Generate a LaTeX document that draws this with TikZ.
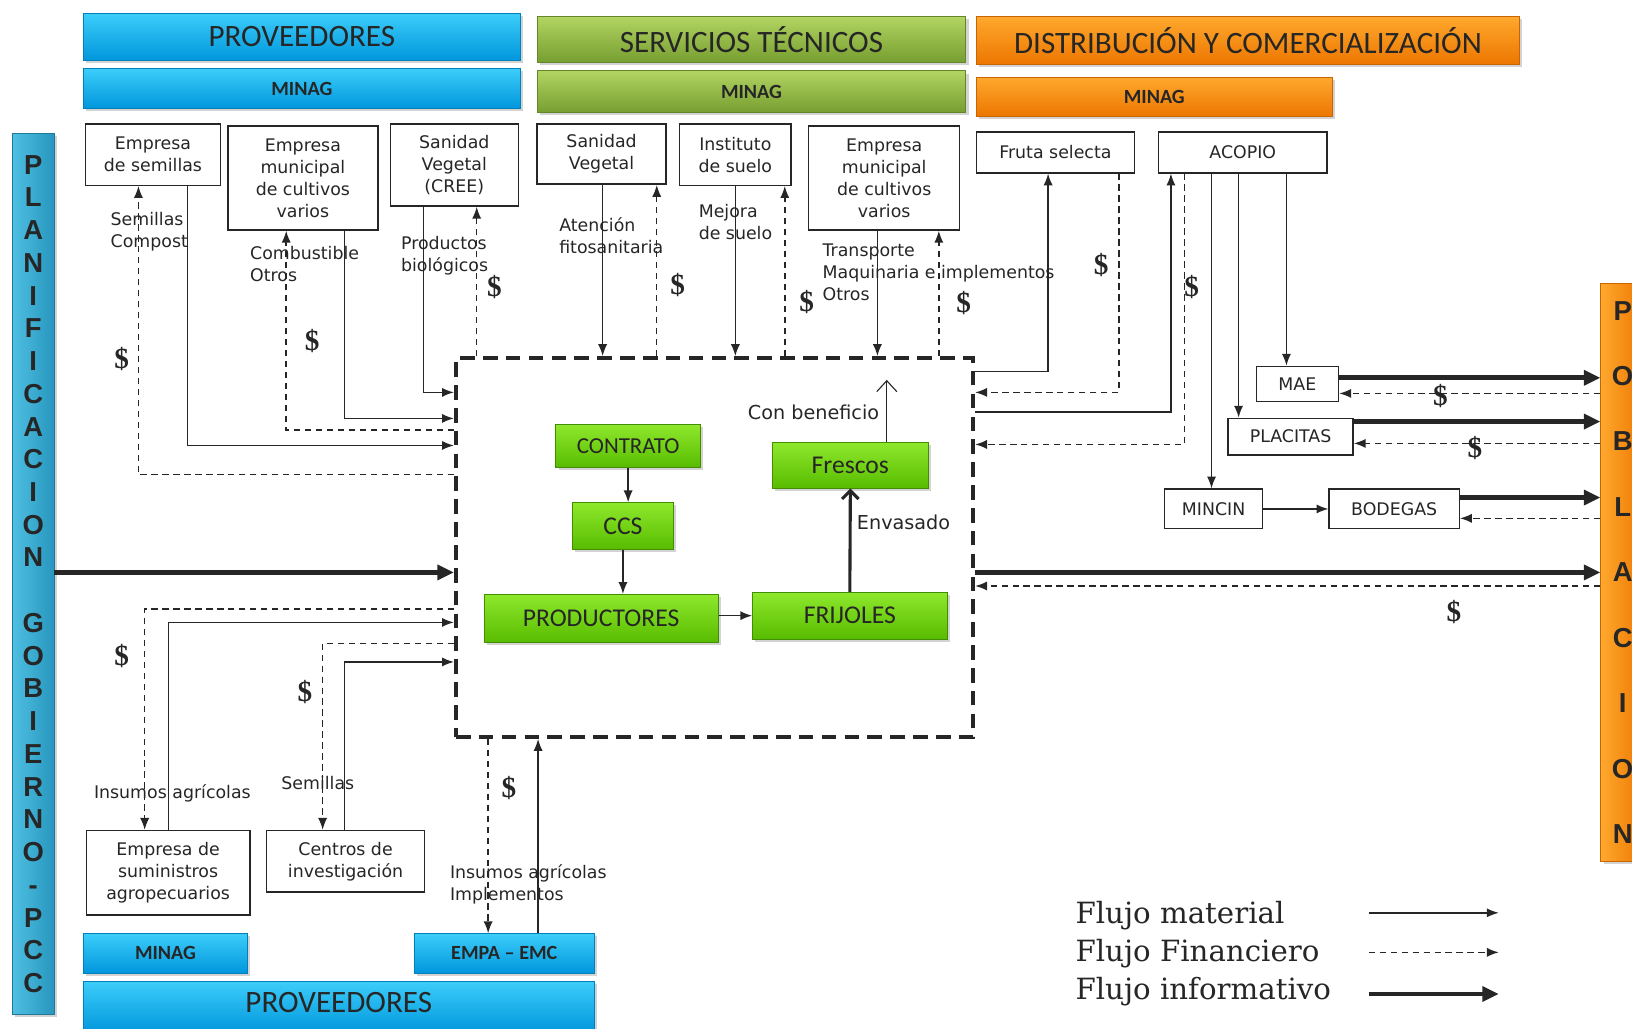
\documentclass[tikz,border=0pt]{standalone}
\usepackage{fontspec}
\setmainfont{DejaVu Sans}
\newfontfamily\hdrfont{Carlito}
\newfontfamily\lgdfont{DejaVu Serif}
\newfontfamily\dolfont{Liberation Serif}
\newfontfamily\barfont{Liberation Sans}
\usetikzlibrary{arrows.meta, shadows}

\definecolor{blueT}{RGB}{60,205,250}
\definecolor{blueB}{RGB}{0,150,220}
\definecolor{oliveT}{RGB}{178,212,98}
\definecolor{oliveB}{RGB}{118,158,48}
\definecolor{orangeT}{RGB}{255,168,45}
\definecolor{orangeB}{RGB}{236,118,0}
\definecolor{greenT}{RGB}{142,232,44}
\definecolor{greenB}{RGB}{88,188,0}
\definecolor{tealL}{RGB}{78,192,226}
\definecolor{tealR}{RGB}{40,150,190}
\definecolor{ink}{RGB}{38,38,38}

\begin{document}
\begin{tikzpicture}[x=0.02cm, y=-0.02cm, text=ink, font=\fontsize{9.5}{12}\selectfont]
    \tikzstyle{bar} = [rectangle, inner sep=0pt,
        drop shadow={shadow xshift=1.5pt, shadow yshift=-1.5pt, opacity=0.35}]
    \tikzstyle{bluebar} = [bar, top color=blueT, bottom color=blueB, draw=blueB!85!black]
    \tikzstyle{olivebar} = [bar, top color=oliveT, bottom color=oliveB, draw=oliveB!85!black]
    \tikzstyle{orangebar} = [bar, top color=orangeT, bottom color=orangeB, draw=orangeB!85!black]
    \tikzstyle{hdrtxt} = [font=\hdrfont\fontsize{17}{20}\selectfont, text=black!85]
    \tikzstyle{subtxt} = [font=\hdrfont\bfseries\fontsize{11}{13}\selectfont, text=black!85]
    \tikzstyle{wbox} = [rectangle, draw=black!85, line width=0.8pt, fill=white,
        align=center, inner sep=2pt]
    \tikzstyle{gbox} = [rectangle, top color=greenT, bottom color=greenB,
        draw=greenB!75!black, inner sep=0pt, text=black!85,
        drop shadow={shadow xshift=1.5pt, shadow yshift=-1.5pt, opacity=0.35},
        font=\hdrfont\fontsize{14}{16}\selectfont]
    \tikzstyle{lbl} = [align=left, inner sep=0pt, anchor=west]
    \tikzstyle{dol} = [inner sep=0pt, font=\dolfont\bfseries\fontsize{16}{18}\selectfont]
    \tikzstyle{lgd} = [inner sep=0pt, anchor=west, font=\lgdfont\fontsize{16}{18}\selectfont]
    \tikzstyle{mat} = [draw=ink, line width=0.8pt, -{Latex[length=6.5pt,width=5pt]}]
    \tikzstyle{fin} = [draw=ink, line width=0.8pt, dash pattern=on 3.5pt off 2.5pt,
        -{Latex[length=6.5pt,width=5pt]}]
    \tikzstyle{inf} = [draw=ink, line width=2.8pt, -{Triangle[length=9pt,width=8pt]}]

    \useasboundingbox (0,0) rectangle (1568,988);

    % cabeceras
    \node [bluebar, hdrtxt, minimum width=8.4cm, minimum height=0.9cm] (prov) at (290,35.5) {PROVEEDORES};
    \node [bluebar, subtxt, minimum width=8.4cm, minimum height=0.76cm] (minag1) at (290,85) {MINAG};
    \node [olivebar, hdrtxt, minimum width=8.24cm, minimum height=0.88cm] (serv) at (722,38) {SERVICIOS TÉCNICOS};
    \node [olivebar, subtxt, minimum width=8.24cm, minimum height=0.8cm] (minag2) at (722,88) {MINAG};
    \node [orangebar, hdrtxt, minimum width=10.44cm, minimum height=0.92cm] (dist) at (1199,39) {DISTRIBUCIÓN Y COMERCIALIZACIÓN};
    \node [orangebar, subtxt, minimum width=6.84cm, minimum height=0.76cm] (minag3) at (1109,93) {MINAG};

    % barras laterales
    \node [bar, left color=tealL, right color=tealR, draw=tealR!80!black,
        minimum width=0.8cm, minimum height=16.94cm, align=center,
        font=\barfont\bfseries\fontsize{15}{17.9}\selectfont] (gob) at (32,551.5)
        {P\\L\\A\\N\\I\\F\\I\\C\\A\\C\\I\\O\\N\\[17.9pt]G\\O\\B\\I\\E\\R\\N\\O\\-\\P\\C\\C};
    \node [bar, left color=orangeT, right color=orangeB, draw=orangeB!85!black,
        minimum width=0.84cm, minimum height=11.12cm, align=center,
        font=\barfont\bfseries\fontsize{15}{35.8}\selectfont] (pob) at (1559,550)
        {P\\O\\B\\L\\A\\C\\I\\O\\N};

    % proveedores y servicios
    \node [wbox, minimum width=2.6cm, minimum height=1.18cm] (semillas) at (147,148.5) {Empresa\\de semillas};
    \node [wbox, minimum width=2.88cm, minimum height=2.0cm] (empmun1) at (291,171) {Empresa\\municipal\\de cultivos\\varios};
    \node [wbox, minimum width=2.46cm, minimum height=1.58cm] (sanveg1) at (436.5,158.5) {Sanidad\\Vegetal\\(CREE)};
    \node [wbox, minimum width=2.48cm, minimum height=1.16cm] (sanveg2) at (578,148) {Sanidad\\Vegetal};
    \node [wbox, minimum width=2.14cm, minimum height=1.18cm] (instsuelo) at (706.5,148.5) {Instituto\\de suelo};
    \node [wbox, minimum width=2.9cm, minimum height=2.0cm] (empmun2) at (849.5,171) {Empresa\\municipal\\de cultivos\\varios};
    \node [wbox, minimum width=3.04cm, minimum height=0.78cm] (fruta) at (1014,146.5) {Fruta selecta};
    \node [wbox, minimum width=3.24cm, minimum height=0.78cm] (acopio) at (1194,146.5) {ACOPIO};
    \node [wbox, minimum width=1.58cm, minimum height=0.68cm] (mae) at (1246.5,369) {MAE};
    \node [wbox, minimum width=2.4cm, minimum height=0.7cm] (placitas) at (1240,419.5) {PLACITAS};
    \node [wbox, minimum width=1.88cm, minimum height=0.76cm] (mincin) at (1166,489) {MINCIN};
    \node [wbox, minimum width=2.5cm, minimum height=0.76cm] (bodegas) at (1339.5,489) {BODEGAS};
    \node [wbox, minimum width=3.14cm, minimum height=1.62cm] (suministros) at (161.5,838.5) {Empresa de\\suministros\\agropecuarios};
    \node [wbox, minimum width=3.04cm, minimum height=1.18cm] (centros) at (332,827.5) {Centros de\\investigación};
    \node [bluebar, subtxt, minimum width=3.16cm, minimum height=0.76cm] (bminag) at (159,916) {MINAG};
    \node [bluebar, subtxt, minimum width=3.46cm, minimum height=0.76cm] (empa) at (484.5,916) {EMPA – EMC};
    \node [bluebar, hdrtxt, minimum width=9.82cm, minimum height=1.0cm, text depth=6pt] (bprov) at (325.5,968) {PROVEEDORES};

    % sistema productivo
    \node [draw=ink, line width=2.2pt, dash pattern=on 8pt off 4.5pt, inner sep=0pt,
        minimum width=9.94cm, minimum height=7.28cm] (sist) at (686.5,526) {};
    \node [gbox, minimum width=2.78cm, minimum height=0.82cm, font=\hdrfont\fontsize{12.5}{14}\selectfont] (contrato) at (603.5,428.5) {CONTRATO};
    \node [gbox, minimum width=1.94cm, minimum height=0.9cm] (ccs) at (598.5,505.5) {CCS};
    \node [gbox, minimum width=4.5cm, minimum height=0.92cm] (prod) at (577.5,594) {PRODUCTORES};
    \node [gbox, minimum width=3.74cm, minimum height=0.9cm] (frij) at (816.5,591.5) {FRIJOLES};
    \node [gbox, minimum width=3.0cm, minimum height=0.88cm] (frescos) at (817,447) {Frescos};
    \coordinate (benef) at (852,365);

    \draw [mat] (contrato.south) -- (contrato.south |- ccs.north);
    \draw [mat] (ccs.south) -- (ccs.south |- prod.north);
    \draw [mat] (prod.east |- frij.west) -- (frij.west);
    \draw [draw=ink, line width=1.7pt, -{Straight Barb[length=4.5pt,width=9pt]}] (frij.north) -- (frescos.south);
    \draw [draw=ink, line width=0.6pt, -{Straight Barb[length=6pt,width=11pt]}] (frescos.north -| benef) -- (benef);

    % rotulos de flujos
    \node [lbl] (lsem) at (106,222.5) {Semillas\\Compost};
    \node [lbl] (lcomb) at (240,253.5) {Combustible\\Otros};
    \node [lbl] (lbio) at (385,245.5) {Productos\\biológicos};
    \node [lbl] (lfito) at (537,226) {Atención\\fitosanitaria};
    \node [lbl] (lsuelo) at (671,213) {Mejora\\de suelo};
    \node [lbl] (ltrans) at (790,261.5) {Transporte\\Maquinaria e implementos\\Otros};
    \node [lbl] (linsu) at (90,762) {Insumos agrícolas};
    \node [lbl] (lsemi) at (270,752) {Semillas};
    \node [lbl] (limpl) at (432,849.5) {Insumos agrícolas\\Implementos};
    \node [lbl, anchor=east, font=\fontsize{10.5}{12}\selectfont] (lbenef) at (845,396) {Con beneficio};
    \node [lbl, font=\fontsize{10.5}{12}\selectfont] (lenv) at (823,502) {Envasado};

    \foreach \px/\py [count=\k] in {117/345, 300/328, 475/276, 651/274, 775/290, 926/291,
        1058/255, 1145/276, 1384/380, 1417/430, 1397/588, 117/630, 293/665, 489/757}
        \node [dol] (dol\k) at (\px,\py) {\$};

    % proveedores arriba
    \draw [mat] (semillas.south -| 180,0) |- (sist.west |- 0,428);
    \draw [fin] (sist.west |- 0,456) -| (semillas.south -| 133,0);
    \draw [mat] (empmun1.south -| 331,0) |- (sist.west |- 0,402);
    \draw [fin] (sist.west |- 0,413) -| (empmun1.south -| 275,0);
    \draw [mat] (sanveg1.south -| 407,0) |- (sist.west |- 0,377);
    \draw [fin] (sist.north -| 458,0) -- (sanveg1.south -| 458,0);

    % servicios tecnicos
    \draw [mat] (sanveg2.south -| 579,0) -- (sist.north -| 579,0);
    \draw [fin] (sist.north -| 631,0) -- (sanveg2.south -| 631,0);
    \draw [mat] (instsuelo.south) -- (sist.north -| instsuelo.south);
    \draw [fin] (sist.north -| 754,0) -- (instsuelo.south -| 754,0);
    \draw [mat] (empmun2.south -| 843,0) -- (sist.north -| 843,0);
    \draw [fin] (sist.north -| 902,0) -- (empmun2.south -| 902,0);

    % distribucion
    \draw [mat] (sist.east |- 0,357) -| (fruta.south -| 1007,0);
    \draw [fin] (fruta.south -| 1075,0) |- (sist.east |- 0,377);
    \draw [mat] (sist.east |- 0,396) -| (acopio.south -| 1125,0);
    \draw [fin] (acopio.south -| 1138,0) |- (sist.east |- 0,427);
    \draw [mat] (acopio.south -| 1236,0) -- (mae.north -| 1236,0);
    \draw [mat] (acopio.south -| 1190,0) -- (placitas.north -| 1190,0);
    \draw [mat] (acopio.south -| 1164,0) -- (mincin.north -| 1164,0);
    \draw [mat] (mincin) -- (bodegas);

    % poblacion
    \draw [inf] (mae.east |- 0,363) -- (pob.west |- 0,363);
    \draw [fin] (pob.west |- 0,378) -- (mae.east |- 0,378);
    \draw [inf] (placitas.east |- 0,405) -- (pob.west |- 0,405);
    \draw [fin] (pob.west |- 0,426) -- (placitas.east |- 0,426);
    \draw [inf] (bodegas.east |- 0,478) -- (pob.west |- 0,478);
    \draw [fin] (pob.west |- 0,498) -- (bodegas.east |- 0,498);
    \draw [inf] (sist.east |- 0,550) -- (pob.west |- 0,550);
    \draw [fin] (pob.west |- 0,563) -- (sist.east |- 0,563);
    \draw [inf] (gob.east |- 0,550) -- (sist.west |- 0,550);

    % proveedores abajo
    \draw [mat] (suministros.north -| 162,0) |- (sist.west |- 0,598);
    \draw [fin] (sist.west |- 0,585) -| (suministros.north -| 139,0);
    \draw [mat] (centros.north -| 331,0) |- (sist.west |- 0,636);
    \draw [fin] (sist.west |- 0,618) -| (centros.north -| 310,0);
    \draw [mat] (empa.north -| 517,0) -- (sist.south -| 517,0);
    \draw [fin] (sist.south -| 469,0) -- (empa.north -| 469,0);

    % leyenda
    \node [lgd] (lgmat) at (1033,880) {Flujo material};
    \node [lgd] (lgfin) at (1033,916) {Flujo Financiero};
    \node [lgd] (lginf) at (1033,953) {Flujo informativo};
    \coordinate (m0) at (1315,877);  \coordinate (m1) at (1440,877);
    \coordinate (f0) at (1315,915);  \coordinate (f1) at (1440,915);
    \coordinate (i0) at (1315,955);  \coordinate (i1) at (1440,955);
    \draw [mat] (m0) -- (m1);
    \draw [fin] (f0) -- (f1);
    \draw [inf, line width=2.5pt] (i0) -- (i1);
\end{tikzpicture}
\end{document}
